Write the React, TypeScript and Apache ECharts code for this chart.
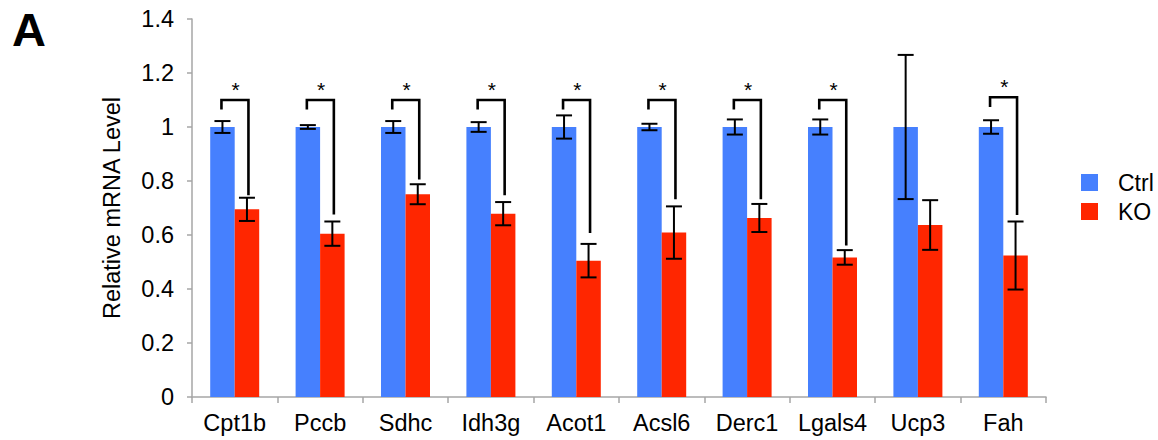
import React, { useEffect, useRef } from "react";
import * as echarts from "echarts";

const categories = ["Cpt1b", "Pccb", "Sdhc", "Idh3g", "Acot1", "Acsl6", "Derc1", "Lgals4", "Ucp3", "Fah"];
const ctrlValues = [1, 1, 1, 1, 1, 1, 1, 1, 1, 1];
const ctrlErrors = [0.022, 0.007, 0.022, 0.018, 0.043, 0.012, 0.028, 0.028, 0.267, 0.025];
const koValues = [0.695, 0.605, 0.751, 0.679, 0.505, 0.609, 0.663, 0.517, 0.637, 0.524];
const koErrors = [0.043, 0.045, 0.037, 0.043, 0.062, 0.097, 0.052, 0.027, 0.092, 0.126];
// significance brackets: top line, left-leg end, right-leg end (null = not significant)
const bracketTop = [1.1, 1.1, 1.1, 1.1, 1.1, 1.1, 1.1, 1.1, null, 1.11];
const bracketLeftEnd = [1.065, 1.065, 1.065, 1.065, 1.065, 1.065, 1.065, 1.065, null, 1.074];
const bracketRightEnd = [0.747, 0.676, 0.806, 0.747, 0.607, 0.732, 0.732, 0.561, null, 0.674];
const yTicks = { min: 0, max: 1.4, interval: 0.2 };

const BLUE = "#4680fe";
const RED = "#ff2600";
const FONT = "Liberation Sans, Arial, Helvetica, sans-serif";
const BAR_W = 24.5;

function errorSeries(values: number[], errors: number[], offset: number) {
  return {
    type: "custom",
    silent: true,
    z: 5,
    data: values.map((v, i) => [i, v, errors[i]]),
    encode: { x: 0, y: 1 },
    renderItem: (params: any, api: any) => {
      const i = api.value(0);
      const v = api.value(1);
      const e = api.value(2);
      const top = api.coord([i, v + e]);
      const bot = api.coord([i, v - e]);
      const x = top[0] + offset;
      const st = { stroke: "#000", lineWidth: 2 };
      return {
        type: "group",
        children: [
          { type: "line", shape: { x1: x, y1: top[1], x2: x, y2: bot[1] }, style: st },
          { type: "line", shape: { x1: x - 8, y1: top[1], x2: x + 8, y2: top[1] }, style: st },
          { type: "line", shape: { x1: x - 8, y1: bot[1], x2: x + 8, y2: bot[1] }, style: st },
        ],
      };
    },
  };
}

export default function App() {
  const ref = useRef<HTMLDivElement>(null);
  useEffect(() => {
    if (!ref.current) return;
    const chart = echarts.init(ref.current, undefined, { renderer: "svg" });
    const bracketData = categories
      .map((_, i) => [i, bracketTop[i], bracketLeftEnd[i], bracketRightEnd[i]])
      .filter((d) => d[1] !== null);
    chart.setOption({
      animation: false,
      textStyle: { fontFamily: FONT },
      grid: { left: 192, right: 112, top: 19, bottom: 43, containLabel: false },
      legend: {
        data: ["Ctrl", "KO"],
        orient: "vertical",
        left: 1081,
        top: 171,
        padding: 0,
        itemWidth: 17,
        itemHeight: 17,
        itemGap: 6,
        icon: "rect",
        textStyle: {
          fontSize: 23,
          color: "#000",
          fontFamily: FONT,
          padding: [0, 0, 0, 15],
        },
      },
      graphic: [
        {
          type: "text",
          left: 12,
          top: 6,
          style: { text: "A", fontSize: 47, fontWeight: "bold", fill: "#000", fontFamily: FONT },
        },
      ],
      xAxis: {
        type: "category",
        data: categories,
        axisLine: { lineStyle: { color: "#a6a6a6", width: 1.5 } },
        axisTick: { show: true, length: 6, lineStyle: { color: "#a6a6a6", width: 1.5 } },
        axisLabel: { color: "#000", fontSize: 23.5, margin: 14, interval: 0, fontFamily: FONT },
      },
      yAxis: {
        type: "value",
        min: yTicks.min,
        max: yTicks.max,
        interval: yTicks.interval,
        name: "Relative mRNA Level",
        nameLocation: "middle",
        nameGap: 68,
        nameTextStyle: { fontSize: 23.5, color: "#000", fontFamily: FONT },
        axisLine: { show: true, lineStyle: { color: "#a6a6a6", width: 1.5 } },
        axisTick: { show: true, length: 5, lineStyle: { color: "#a6a6a6", width: 1.5 } },
        splitLine: { show: false },
        axisLabel: { color: "#000", fontSize: 23.5, margin: 18, fontFamily: FONT },
      },
      series: [
        {
          name: "Ctrl",
          type: "bar",
          data: ctrlValues,
          barWidth: BAR_W,
          barGap: "0%",
          itemStyle: { color: BLUE },
        },
        {
          name: "KO",
          type: "bar",
          data: koValues,
          barWidth: BAR_W,
          barGap: "0%",
          itemStyle: { color: RED },
        },
        errorSeries(ctrlValues, ctrlErrors, -BAR_W / 2),
        errorSeries(koValues, koErrors, BAR_W / 2),
        {
          type: "custom",
          silent: true,
          z: 6,
          data: bracketData,
          encode: { x: 0, y: 1 },
          renderItem: (params: any, api: any) => {
            const i = api.value(0);
            const topV = api.value(1);
            const leftV = api.value(2);
            const rightV = api.value(3);
            const c = api.coord([i, topV]);
            const xl = c[0] - BAR_W / 2 - 1;
            const xr = c[0] + BAR_W / 2 + 1.5;
            const yl = api.coord([i, leftV])[1];
            const yr = api.coord([i, rightV])[1];
            const ys = api.coord([i, topV + 0.04])[1];
            return {
              type: "group",
              children: [
                {
                  type: "polyline",
                  shape: { points: [[xl, yl], [xl, c[1]], [xr, c[1]], [xr, yr]] },
                  style: { stroke: "#000", lineWidth: 2.6, fill: null },
                },
                {
                  type: "text",
                  x: c[0] + 1,
                  y: ys,
                  style: {
                    text: "*",
                    fontSize: 21,
                    fill: "#000",
                    fontFamily: FONT,
                    align: "center",
                    verticalAlign: "middle",
                  },
                },
              ],
            };
          },
        },
      ],
    });
    return () => chart.dispose();
  }, []);
  return (
    <div
      ref={ref}
      style={{ position: "fixed", left: 0, top: 0, width: 1158, height: 440, background: "#fff" }}
    />
  );
}
